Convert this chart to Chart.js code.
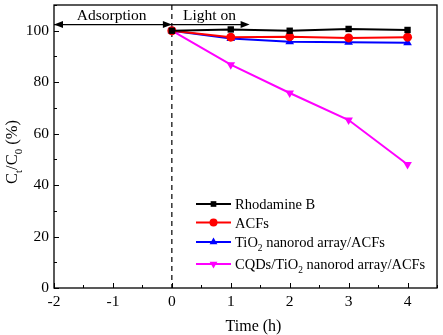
<!DOCTYPE html>
<html><head><meta charset="utf-8">
<script src="https://cdn.jsdelivr.net/npm/chart.js@4/dist/chart.umd.min.js"></script>
<style>html,body{margin:0;padding:0;background:#fff}#wrap{width:443px;height:335px}</style>
</head><body><div id="wrap"><canvas id="c" width="443" height="335"></canvas></div>
<script>
const times = [0, 1, 2, 3, 4];
const rhodamineB = [100, 100.5, 100, 100.7, 100.3];
const acfs = [100, 97.5, 97.7, 97.2, 97.5];
const tio2 = [100, 97, 95.7, 95.5, 95.3];
const cqds = [100, 86.8, 75.8, 65.3, 48];
const xTicks = [-2, -1, 0, 1, 2, 3, 4];
const yTicks = [0, 20, 40, 60, 80, 100];
const seriesNames = ['Rhodamine B', 'ACFs', 'TiO2 nanorod array/ACFs', 'CQDs/TiO2 nanorod array/ACFs'];
const FONT = '"Liberation Serif", "Times New Roman", serif';

function pts(ys){ return times.map((t,i)=>({x:t,y:ys[i]})); }

const ds = [
  {label: seriesNames[0], data: pts(rhodamineB), borderColor:'#000', backgroundColor:'#000', pointStyle:'rect', pointRadius:4.5, rotation:0},
  {label: seriesNames[1], data: pts(acfs), borderColor:'#ff0000', backgroundColor:'#ff0000', pointStyle:'circle', pointRadius:4.5, rotation:0},
  {label: seriesNames[2], data: pts(tio2), borderColor:'#0000ff', backgroundColor:'#0000ff', pointStyle:'triangle', pointRadius:5, rotation:0},
  {label: seriesNames[3], data: pts(cqds), borderColor:'#ff00ff', backgroundColor:'#ff00ff', pointStyle:'triangle', pointRadius:5, rotation:180},
].map(d=>Object.assign(d,{borderWidth:2, pointBorderWidth:0, tension:0, fill:false}));

function drawSubText(ctx, parts, x, y, size){
  let cx = x;
  for (const [t, sub] of parts){
    ctx.font = (sub ? size*0.65 : size) + 'px ' + FONT;
    ctx.fillText(t, cx, y + (sub ? size*0.28 : 0));
    cx += ctx.measureText(t).width;
  }
  return cx - x;
}
function measureSub(ctx, parts, size){
  let w=0;
  for (const [t, sub] of parts){ ctx.font=(sub?size*0.65:size)+'px '+FONT; w+=ctx.measureText(t).width; }
  return w;
}
function arrowHead(ctx, x, y, dir){
  ctx.beginPath();
  ctx.moveTo(x, y);
  ctx.lineTo(x - dir*9, y - 3.5);
  ctx.lineTo(x - dir*9, y + 3.5);
  ctx.closePath(); ctx.fill();
}

const deco = {
  id:'deco',
  beforeDatasetsDraw(chart){
    const {ctx, chartArea:a, scales:{x, y}} = chart;
    ctx.save();
    ctx.strokeStyle='#000'; ctx.lineWidth=1.2; ctx.setLineDash([5,4]);
    ctx.beginPath(); ctx.moveTo(x.getPixelForValue(0), a.top); ctx.lineTo(x.getPixelForValue(0), a.bottom); ctx.stroke();
    ctx.setLineDash([]);
    const ay = y.getPixelForValue(102.4);
    ctx.lineWidth=1.3; ctx.fillStyle='#000';
    const x0 = x.getPixelForValue(-2), x1 = x.getPixelForValue(0), x2 = x.getPixelForValue(1.32);
    ctx.beginPath(); ctx.moveTo(x0, ay); ctx.lineTo(x2-4, ay); ctx.stroke();
    arrowHead(ctx, x0, ay, -1); arrowHead(ctx, x1, ay, 1); arrowHead(ctx, x2, ay, 1);
    ctx.font='15.5px '+FONT; ctx.textAlign='center'; ctx.textBaseline='alphabetic';
    ctx.fillText('Adsorption', x.getPixelForValue(-1.02), a.top + 15);
    ctx.fillText('Light on', x.getPixelForValue(0.64), a.top + 15);
    ctx.restore();
  },
  afterDraw(chart){
    const {ctx, chartArea:a, scales:{x, y}} = chart;
    ctx.save();
    ctx.strokeStyle='#000'; ctx.lineWidth=1.3;
    ctx.strokeRect(a.left, a.top, a.right-a.left, a.bottom-a.top);
    ctx.lineWidth=1;
    for (let v=-2; v<=4.5; v+=0.5){
      const px = Math.round(x.getPixelForValue(v))+0.5;
      const len = Number.isInteger(v) ? 5 : 3;
      ctx.beginPath(); ctx.moveTo(px, a.bottom); ctx.lineTo(px, a.bottom-len); ctx.stroke();
    }
    for (let v=0; v<=110; v+=10){
      const py = Math.round(y.getPixelForValue(v))+0.5;
      const len = v%20===0 ? 5 : 3;
      ctx.beginPath(); ctx.moveTo(a.left, py); ctx.lineTo(a.left+len, py); ctx.stroke();
    }
    ctx.fillStyle='#000'; ctx.textBaseline='alphabetic'; ctx.textAlign='left';
    ctx.font='16px '+FONT;
    const tw = ctx.measureText('Time (h)').width;
    ctx.fillText('Time (h)', (a.left+a.right)/2 - tw/2 + 8, 331);
    const yParts = [['C',false],['t',true],['/C',false],['0',true],[' (%)',false]];
    ctx.save();
    ctx.translate(17, 152); ctx.rotate(-Math.PI/2);
    const w = measureSub(ctx, yParts, 16.5);
    drawSubText(ctx, yParts, -w/2, 0, 16.5);
    ctx.restore();
    const legY = [204, 222.5, 242, 264];
    const labels = [
      [['Rhodamine B',false]],
      [['ACFs',false]],
      [['TiO',false],['2',true],[' nanorod array/ACFs',false]],
      [['CQDs/TiO',false],['2',true],[' nanorod array/ACFs',false]],
    ];
    chart.data.datasets.forEach((d,i)=>{
      const ly = legY[i];
      ctx.strokeStyle=d.borderColor; ctx.lineWidth=2;
      ctx.beginPath(); ctx.moveTo(196, ly); ctx.lineTo(231, ly); ctx.stroke();
      ctx.fillStyle=d.backgroundColor;
      Chart.helpers.drawPoint(ctx, {pointStyle:d.pointStyle, rotation:d.rotation, radius:d.pointRadius-0.5, borderWidth:0}, 213.5, ly);
      ctx.fillStyle='#000';
      drawSubText(ctx, labels[i], 235, ly+5, 14.5);
    });
    ctx.restore();
  }
};

new Chart(document.getElementById('c'), {
  type:'line',
  data:{datasets: ds},
  options:{
    responsive:false, animation:false, devicePixelRatio:1,
    layout:{padding:{top:4, right:6, left:0, bottom:0}},
    plugins:{legend:{display:false}, tooltip:{enabled:false}},
    scales:{
      x:{type:'linear', min:-2, max:4.5,
        grid:{display:false, drawTicks:false}, border:{display:false},
        afterFit(s){ s.height = 47; s.paddingLeft = 0; s.paddingRight = 0; },
        ticks:{stepSize:1, includeBounds:false, padding:5, color:'#000', font:{family:FONT, size:15.5},
          callback:(v)=> xTicks.includes(v) ? String(v) : ''}},
      y:{min:0, max:110,
        grid:{display:false, drawTicks:false}, border:{display:false},
        afterFit(s){ s.width = 54; s.paddingTop = 0; s.paddingBottom = 0; },
        ticks:{stepSize:20, includeBounds:false, padding:5, color:'#000', font:{family:FONT, size:15.5},
          callback:(v)=> yTicks.includes(v) ? String(v) : ''}}
    }
  },
  plugins:[deco]
});
</script></body></html>
